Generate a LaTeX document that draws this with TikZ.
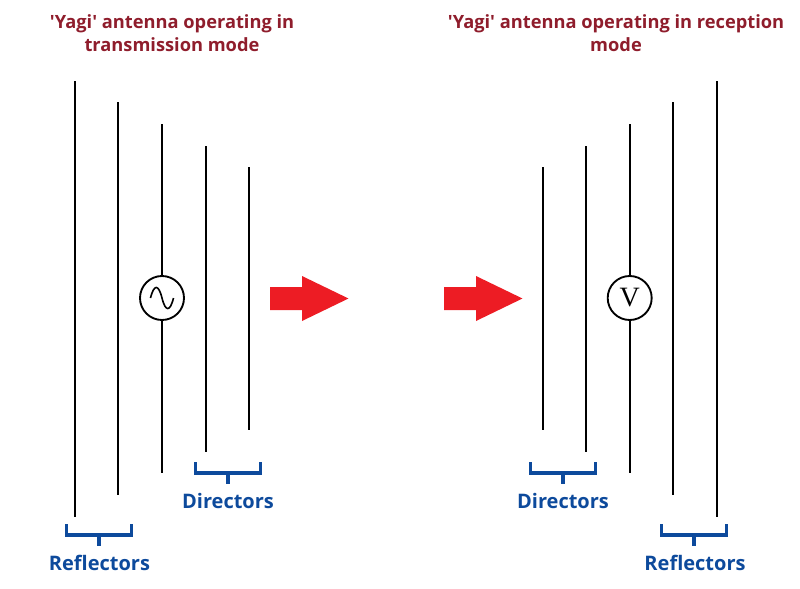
\documentclass[tikz,border=0pt]{standalone}
\usepackage{fontspec}
\setmainfont{Open Sans}
\newfontfamily\titlefont{Open Sans}
\newfontfamily\serifv{Liberation Serif}
\definecolor{titlered}{HTML}{8F1D2C}
\definecolor{labelblue}{HTML}{0D4A9C}
\definecolor{arrowred}{HTML}{ED1C24}
\begin{document}
\begin{tikzpicture}[x=0.75pt,y=-0.75pt,
  elem/.style={line width=1.5pt,black},
  src/.style={circle,draw=black,line width=1.4pt,fill=white,minimum size=33pt,inner sep=0pt},
  titletext/.style={text=titlered,font=\titlefont\bfseries\fontsize{13.7}{17.4}\selectfont,align=center,inner sep=0pt},
  lbl/.style={text=labelblue,font=\bfseries\fontsize{15}{18}\selectfont,inner sep=0pt},
  brk/.style={draw=labelblue,line width=2.3pt,line cap=butt,line join=miter},
  bigarrow/.style={fill=arrowred,draw=none}]
\useasboundingbox (0,0) rectangle (800,589);
\node[titletext] (t1) at (172,33) {'Yagi' antenna operating in\\transmission mode};
\node[titletext] (t2) at (616,33) {'Yagi' antenna operating in reception\\mode};
% left antenna
\coordinate (a1t) at (74.7,81); \coordinate (a1b) at (74.7,517);
\coordinate (a2t) at (118.2,102); \coordinate (a2b) at (118.2,495);
\coordinate (a3t) at (162,124); \coordinate (a3b) at (162,473);
\coordinate (a4t) at (205.5,146); \coordinate (a4b) at (205.5,452);
\coordinate (a5t) at (249,167); \coordinate (a5b) at (249,430);
\draw[elem] (a1t)--(a1b);
\draw[elem] (a2t)--(a2b);
\draw[elem] (a4t)--(a4b);
\draw[elem] (a5t)--(a5b);
\node[src] (s1) at (162,298) {};
\draw[elem] (a3t)--(s1.north);
\draw[elem] (s1.south)--(a3b);
\draw[line width=1.2pt] (150.5,298) .. controls (154,284) and (158.5,284) .. (162,298) .. controls (165.5,312) and (170,312) .. (173.5,298);
% right antenna
\coordinate (b1t) at (542.7,167); \coordinate (b1b) at (542.7,430);
\coordinate (b2t) at (586.2,146); \coordinate (b2b) at (586.2,452);
\coordinate (b3t) at (629.7,124); \coordinate (b3b) at (629.7,473);
\coordinate (b4t) at (673.2,102); \coordinate (b4b) at (673.2,495);
\coordinate (b5t) at (716.7,81); \coordinate (b5b) at (716.7,517);
\draw[elem] (b1t)--(b1b);
\draw[elem] (b2t)--(b2b);
\draw[elem] (b4t)--(b4b);
\draw[elem] (b5t)--(b5b);
\node[src,font=\serifv\fontsize{21}{21}\selectfont] (s2) at (629.7,298) {V};
\draw[elem] (b3t)--(s2.north);
\draw[elem] (s2.south)--(b3b);
% arrows
\fill[bigarrow] (270,287)--(302,287)--(302,276)--(348.5,298.5)--(302,321)--(302,310)--(270,310)--cycle;
\fill[bigarrow] (444,287)--(476,287)--(476,276)--(522.5,298.5)--(476,321)--(476,310)--(444,310)--cycle;
% brackets and labels
\node[lbl] (d1) at (228,501) {Directors};
\draw[brk] (195.5,462)--(195.5,473)--(260.5,473)--(260.5,462);
\draw[brk] (228,473)--(228,484);
\node[lbl] (r1) at (99.5,563) {Reflectors};
\draw[brk] (66.5,524)--(66.5,535)--(131.5,535)--(131.5,524);
\draw[brk] (99,535)--(99,546);
\node[lbl] (d2) at (563,501) {Directors};
\draw[brk] (530.5,462)--(530.5,473)--(595.5,473)--(595.5,462);
\draw[brk] (563,473)--(563,484);
\node[lbl] (r2) at (695,563) {Reflectors};
\draw[brk] (661.5,524)--(661.5,535)--(726.5,535)--(726.5,524);
\draw[brk] (694,535)--(694,546);
\end{tikzpicture}
\end{document}
